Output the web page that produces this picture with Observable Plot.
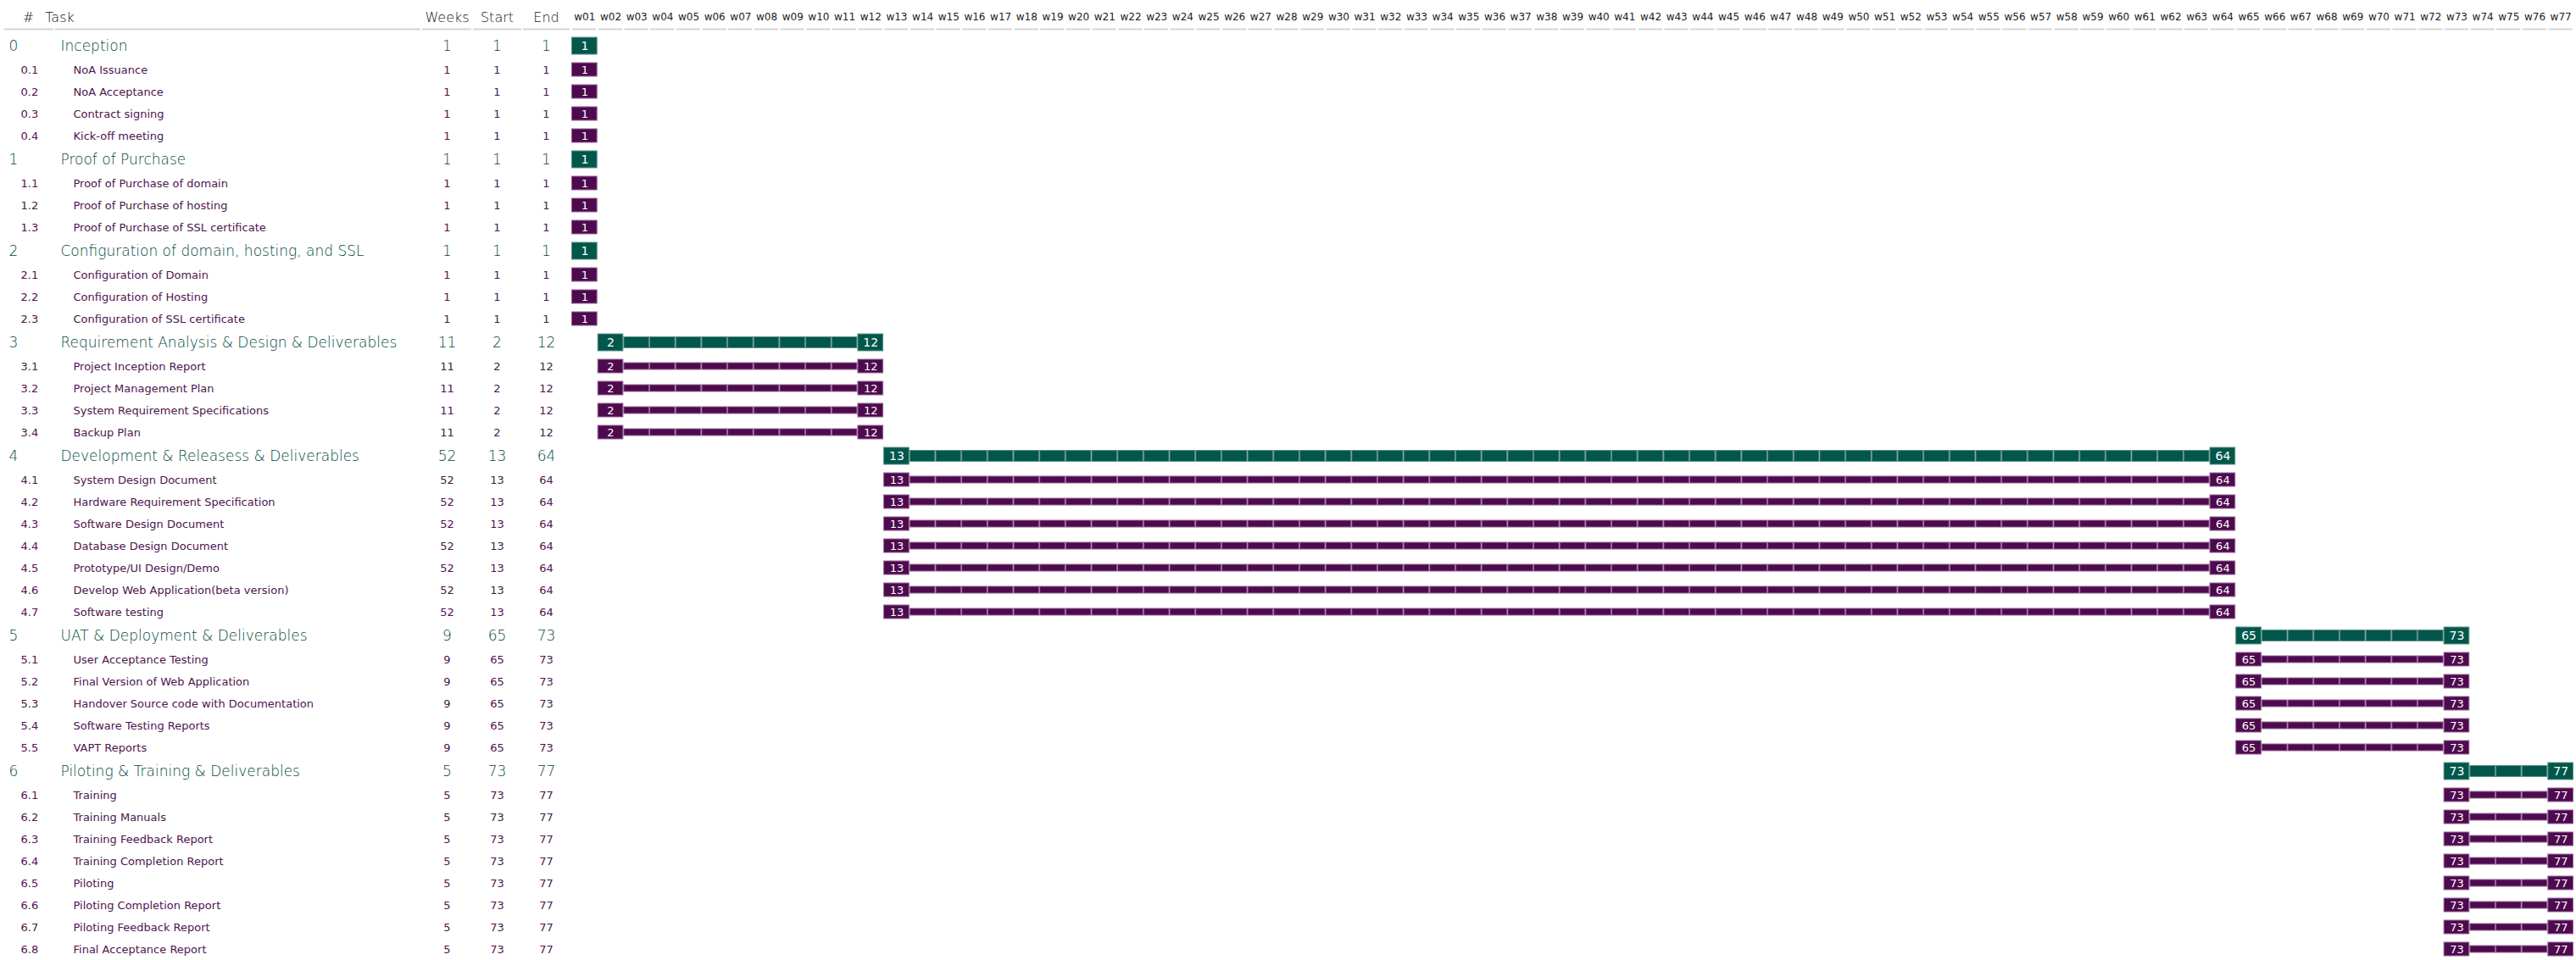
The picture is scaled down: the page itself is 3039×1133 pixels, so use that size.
<!DOCTYPE html>
<html><head><meta charset="utf-8">
<script src="https://cdn.jsdelivr.net/npm/d3@7"></script>
<script src="https://cdn.jsdelivr.net/npm/@observablehq/plot@0.6"></script>
<style>
html,body{margin:0;padding:0;background:#fff;}
#chart svg{display:block;}
</style></head><body><div id="chart"></div>
<script>
// ---------- data ----------
const ids = ["0","0.1","0.2","0.3","0.4",
  "1","1.1","1.2","1.3",
  "2","2.1","2.2","2.3",
  "3","3.1","3.2","3.3","3.4",
  "4","4.1","4.2","4.3","4.4","4.5","4.6","4.7",
  "5","5.1","5.2","5.3","5.4","5.5",
  "6","6.1","6.2","6.3","6.4","6.5","6.6","6.7","6.8"];
const tasks = ["Inception","NoA Issuance","NoA Acceptance","Contract signing","Kick-off meeting",
  "Proof of Purchase","Proof of Purchase of domain","Proof of Purchase of hosting","Proof of Purchase of SSL certificate",
  "Configuration of domain, hosting, and SSL","Configuration of Domain","Configuration of Hosting","Configuration of SSL certificate",
  "Requirement Analysis & Design & Deliverables","Project Inception Report","Project Management Plan","System Requirement Specifications","Backup Plan",
  "Development & Releasess & Deliverables","System Design Document","Hardware Requirement Specification","Software Design Document","Database Design Document","Prototype/UI Design/Demo","Develop Web Application(beta version)","Software testing",
  "UAT & Deployment & Deliverables","User Acceptance Testing","Final Version of Web Application","Handover Source code with Documentation","Software Testing Reports","VAPT Reports",
  "Piloting & Training & Deliverables","Training","Training Manuals","Training Feedback Report","Training Completion Report","Piloting","Piloting Completion Report","Piloting Feedback Report","Final Acceptance Report"];
const weeks = [1,1,1,1,1, 1,1,1,1, 1,1,1,1, 11,11,11,11,11, 52,52,52,52,52,52,52,52, 9,9,9,9,9,9, 5,5,5,5,5,5,5,5,5];
const starts = [1,1,1,1,1, 1,1,1,1, 1,1,1,1, 2,2,2,2,2, 13,13,13,13,13,13,13,13, 65,65,65,65,65,65, 73,73,73,73,73,73,73,73,73];
const ends = [1,1,1,1,1, 1,1,1,1, 1,1,1,1, 12,12,12,12,12, 64,64,64,64,64,64,64,64, 73,73,73,73,73,73, 77,77,77,77,77,77,77,77,77];
const weekLabels = d3.range(1, 78).map(w => "w" + String(w).padStart(2, "0"));
const headers = ["#", "Task", "Weeks", "Start", "End"];

// ---------- layout / style ----------
const W = 3039, H = 1133, TOP = 39;
const GROUP_H = 30, SUB_H = 26;
const X_DOMAIN = [1, 78], X_RANGE = [674, 3036];
const GREEN = "#02574b", GREEN_EDGE = "#5d9188", GREEN_TEXT = "#00493d";
const PURPLE = "#4e0a4e", PURPLE_EDGE = "#946694", PURPLE_TEXT = "#4e1450";
const xs = Plot.scale({x: {domain: X_DOMAIN, range: X_RANGE}});
const px = p => xs.invert(p);
const headerLayout = {
  "#":     {x1: 5,   x2: 63,  at: 33,  anchor: "middle"},
  "Task":  {x1: 65,  x2: 496, at: 70,  anchor: "start"},
  "Weeks": {x1: 498, x2: 556, at: 527, anchor: "middle"},
  "Start": {x1: 558, x2: 615, at: 586, anchor: "middle"},
  "End":   {x1: 617, x2: 672, at: 644, anchor: "middle"}
};

let acc = 0;
const rows = ids.map((id, i) => {
  const group = !id.includes(".");
  const h = group ? GROUP_H : SUB_H;
  const r = {id, task: tasks[i], weeks: weeks[i], start: starts[i], end: ends[i], group,
             top: acc, bottom: acc + h, mid: acc + h / 2};
  acc += h;
  return r;
});
const total = acc;
const cells = rows.flatMap(r => d3.range(r.start, r.end + 1).map(w => ({...r, w, box: w === r.start || w === r.end})));
const groups = rows.filter(r => r.group), subs = rows.filter(r => !r.group);
const gBox = cells.filter(c => c.group && c.box), gSeg = cells.filter(c => c.group && !c.box);
const sBox = cells.filter(c => !c.group && c.box), sSeg = cells.filter(c => !c.group && !c.box);

const rectBase = {x1: d => d.w, x2: d => d.w + 1, y1: "top", y2: "bottom", insetLeft: 0.5, insetRight: 0.5, strokeWidth: 1};
const colText = (data, key, opts) => Plot.text(data, {y: "mid", lineAnchor: "middle", ...opts, text: key});

const chart = Plot.plot({
  width: W, height: H,
  marginLeft: X_RANGE[0], marginRight: W - X_RANGE[1], marginTop: TOP, marginBottom: 0,
  x: {domain: X_DOMAIN, range: X_RANGE, axis: null},
  y: {domain: [0, total], range: [TOP, H], axis: null},
  style: {fontFamily: "'DejaVu Sans', sans-serif", background: "white"},
  marks: [
    // header underlines
    Plot.ruleY(headers, {y: () => 0, dy: -5, x1: d => px(headerLayout[d].x1), x2: d => px(headerLayout[d].x2), stroke: "#d4d4d4", strokeWidth: 2}),
    Plot.ruleY(weekLabels, {y: () => 0, dy: -5, x1: (d, i) => i + 1 + 0.04, x2: (d, i) => i + 2 - 0.04, stroke: "#d4d4d4", strokeWidth: 2}),
    // header texts
    Plot.text(headers, {x: d => px(headerLayout[d].at), textAnchor: d => headerLayout[d].anchor, frameAnchor: "top", dy: -19, lineAnchor: "middle", fontSize: 16, fontWeight: 200, fill: "#111", text: d => d}),
    Plot.text(weekLabels, {x: (d, i) => i + 1.5, frameAnchor: "top", dy: -19, lineAnchor: "middle", fontSize: 12, fill: "#222", text: d => d}),
    // table: group rows
    colText(groups, "id", {x: () => px(10), textAnchor: "start", fontSize: 17, fontWeight: 200, fill: GREEN_TEXT}),
    colText(groups, "task", {x: () => px(71), textAnchor: "start", fontSize: 17, fontWeight: 200, fill: GREEN_TEXT}),
    colText(groups, "weeks", {x: () => px(527), fontSize: 17, fontWeight: 200, fill: GREEN_TEXT}),
    colText(groups, "start", {x: () => px(586), fontSize: 17, fontWeight: 200, fill: GREEN_TEXT}),
    colText(groups, "end", {x: () => px(644), fontSize: 17, fontWeight: 200, fill: GREEN_TEXT}),
    // table: sub rows
    colText(subs, "id", {x: () => px(24), textAnchor: "start", fontSize: 13, fill: PURPLE_TEXT}),
    colText(subs, "task", {x: () => px(86), textAnchor: "start", fontSize: 13, fill: PURPLE_TEXT}),
    colText(subs, "weeks", {x: () => px(527), fontSize: 13, fill: PURPLE_TEXT}),
    colText(subs, "start", {x: () => px(586), fontSize: 13, fill: PURPLE_TEXT}),
    colText(subs, "end", {x: () => px(644), fontSize: 13, fill: PURPLE_TEXT}),
    // gantt bars
    Plot.rect(gSeg, {...rectBase, insetTop: 8.5, insetBottom: 8.5, fill: GREEN, stroke: GREEN_EDGE}),
    Plot.rect(sSeg, {...rectBase, insetTop: 9, insetBottom: 9, fill: PURPLE, stroke: PURPLE_EDGE}),
    Plot.rect(gBox, {...rectBase, insetTop: 5, insetBottom: 5, fill: GREEN, stroke: GREEN_EDGE}),
    Plot.rect(sBox, {...rectBase, insetTop: 5, insetBottom: 5, fill: PURPLE, stroke: PURPLE_EDGE}),
    Plot.text(gBox, {x: d => d.w + 0.5, y: "mid", lineAnchor: "middle", text: d => String(d.w), fill: "white", fontSize: 14}),
    Plot.text(sBox, {x: d => d.w + 0.5, y: "mid", lineAnchor: "middle", text: d => String(d.w), fill: "white", fontSize: 13})
  ]
});
document.getElementById("chart").appendChild(chart);
</script>
</body></html>
